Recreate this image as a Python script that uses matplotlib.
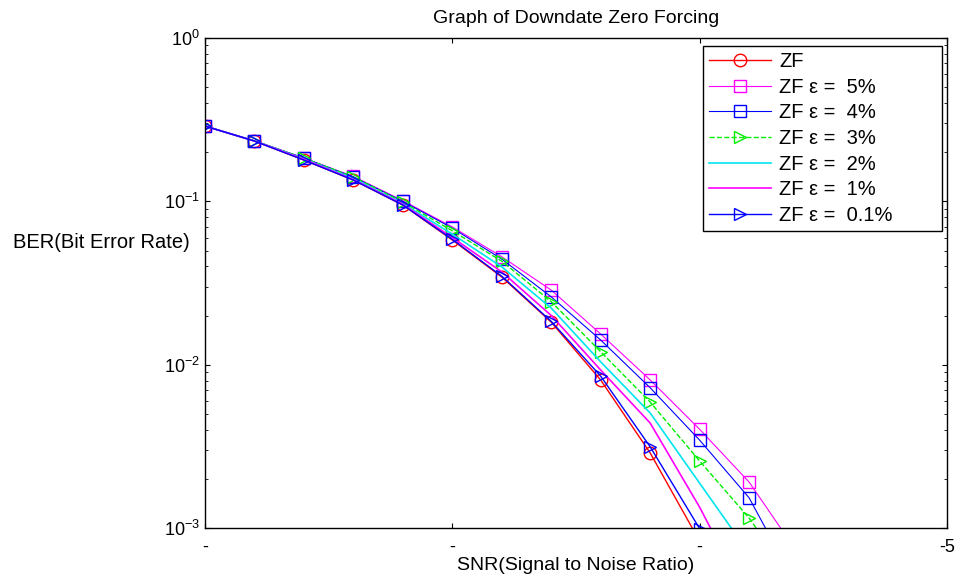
import matplotlib
matplotlib.use('Agg')
from matplotlib import pyplot as plt
import numpy as np

plt.rcParams['font.family'] = ['Liberation Sans', 'DejaVu Sans']

snr = [-20, -19, -18, -17, -16, -15, -14, -13, -12, -11, -10, -9, -8]

ber_zf = [0.289, 0.234, 0.179, 0.135, 0.0949, 0.058, 0.0344, 0.0182, 0.00805, 0.00288, 0.00083]
ber_e5 = [0.289, 0.235, 0.184, 0.142, 0.101, 0.0697, 0.0458, 0.0286, 0.0154, 0.00806, 0.00402, 0.00191, 0.00069]
ber_e4 = [0.289, 0.235, 0.184, 0.141, 0.100, 0.0686, 0.0443, 0.026, 0.01415, 0.00722, 0.00345, 0.00153, 0.00042]
ber_e3 = [0.289, 0.235, 0.184, 0.141, 0.099, 0.066, 0.043, 0.0243, 0.012, 0.0059, 0.00257, 0.00115, 0.00043]
ber_e2 = [0.289, 0.234, 0.182, 0.138, 0.097, 0.063, 0.0397, 0.0222, 0.0104, 0.00506, 0.00188, 0.0007]
ber_e1 = [0.289, 0.234, 0.181, 0.136, 0.096, 0.060, 0.037, 0.020, 0.00927, 0.00439, 0.00134, 0.00035]
ber_e01 = [0.289, 0.234, 0.179, 0.135, 0.095, 0.0585, 0.0348, 0.0184, 0.0085, 0.00314, 0.00099]

labels = ['ZF', 'ZF ε =  5%', 'ZF ε =  4%', 'ZF ε =  3%', 'ZF ε =  2%', 'ZF ε =  1%', 'ZF ε =  0.1%']
xtick_pos = [-20, -15, -10, -5]
xtick_txt = ['-', '-', '-', '-5']

fig = plt.figure(figsize=(9.56, 5.77), dpi=100)
ax = fig.add_axes([0.2144, 0.0849, 0.7762, 0.8492])

ax.semilogy(snr[:len(ber_zf)], ber_zf, color='#ff0000', lw=1, marker='o', mfc='none', ms=9, label=labels[0])
ax.semilogy(snr[:len(ber_e5)], ber_e5, color='#ff00ff', lw=0.8, marker='s', mfc='none', ms=9, label=labels[1])
ax.semilogy(snr[:len(ber_e4)], ber_e4, color='#0000ff', lw=0.8, marker='s', mfc='none', ms=9, label=labels[2])
ax.semilogy(snr[:len(ber_e3)], ber_e3, color='#00ee00', lw=1, ls='--', marker='>', mfc='none', ms=9, label=labels[3])
ax.semilogy(snr[:len(ber_e2)], ber_e2, color='#00e5ee', lw=1.2, label=labels[4])
ax.semilogy(snr[:len(ber_e1)], ber_e1, color='#ff00ff', lw=1.2, label=labels[5])
ax.semilogy(snr[:len(ber_e01)], ber_e01, color='#0000ff', lw=1, marker='>', mfc='none', ms=9, label=labels[6])

ax.set_xlim(-20, -5)
ax.set_ylim(1e-3, 1)
ax.set_xticks(xtick_pos)
ax.set_xticklabels(xtick_txt)
ax.tick_params(which='both', direction='in', top=True, right=True, labelsize=13)
ax.tick_params(axis='x', pad=8)
for s in ax.spines.values():
    s.set_linewidth(1)

ax.set_title('Graph of Downdate Zero Forcing', fontsize=14, pad=11)
fig.text(576 / 956, 1 - 565 / 577, 'SNR(Signal to Noise Ratio)', fontsize=14, ha='center', va='center')
fig.text(13 / 956, 1 - 242 / 577, 'BER(Bit Error Rate)', fontsize=14.5, ha='left', va='center')

leg = ax.legend(loc='upper left', bbox_to_anchor=(0.671, 0, 0.322, 0.9837), mode='expand',
                borderaxespad=0, fontsize=14.5, handlelength=3.1, handletextpad=0.4,
                borderpad=0.3, labelspacing=0.33,
                fancybox=False, framealpha=1, edgecolor='black')
leg.get_frame().set_linewidth(1)

fig.savefig('out.png', dpi=100)
